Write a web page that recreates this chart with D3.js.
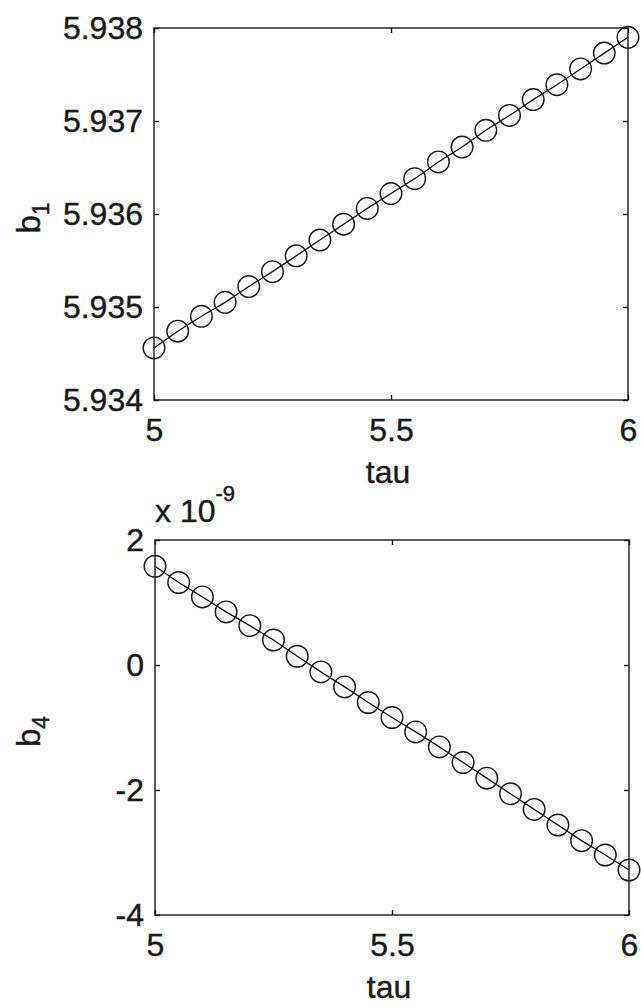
<!DOCTYPE html>
<html>
<head>
<meta charset="utf-8">
<script src="https://cdn.jsdelivr.net/npm/d3@7"></script>
<style>
  body { margin: 0; background: #fff; }
  svg { display: block; }
  text { font-family: "Liberation Sans", Arial, sans-serif; fill: #1a1a1a; stroke: #1a1a1a; stroke-width: 0.4px; }
</style>
</head>
<body>
<div id="chart"></div>
<script>
// tau samples (shared by both panels)
var tau = [5.00, 5.05, 5.10, 5.15, 5.20, 5.25, 5.30, 5.35, 5.40, 5.45, 5.50,
           5.55, 5.60, 5.65, 5.70, 5.75, 5.80, 5.85, 5.90, 5.95, 6.00];

// b1 values
var b1 = [5.93456, 5.93474, 5.93490, 5.93505, 5.93522, 5.93538, 5.93555,
          5.93572, 5.93589, 5.93606, 5.93622, 5.93638, 5.93656, 5.93672,
          5.93690, 5.93706, 5.93723, 5.93739, 5.93756, 5.93773, 5.93790];

// b4 values
var b4 = [1.58e-9, 1.32e-9, 1.09e-9, 0.85e-9, 0.63e-9, 0.40e-9, 0.14e-9,
          -0.11e-9, -0.35e-9, -0.60e-9, -0.84e-9, -1.07e-9, -1.31e-9, -1.56e-9,
          -1.81e-9, -2.06e-9, -2.31e-9, -2.56e-9, -2.81e-9, -3.04e-9, -3.28e-9];

var xTicks = [5, 5.5, 6];
var xTickLabels = ["5", "5.5", "6"];
var b1Ticks = [5.934, 5.935, 5.936, 5.937, 5.938];
var b4Ticks = [-4e-9, -2e-9, 0, 2e-9];

var width = 641, height = 1008;
var fs = 32;

var svg = d3.select("#chart").append("svg")
	.attr("width", width)
	.attr("height", height);

function drawPanel(opt) {
	var x = d3.scaleLinear().domain([5, 6]).range([opt.left, opt.right]);
	var y = d3.scaleLinear().domain(opt.domain).range([opt.bottom, opt.top]);

	var g = svg.append("g");

	// frame
	g.append("rect")
		.attr("x", opt.left)
		.attr("y", opt.top)
		.attr("width", opt.right - opt.left)
		.attr("height", opt.bottom - opt.top)
		.attr("fill", "none")
		.attr("stroke", "#1a1a1a")
		.attr("stroke-width", 1.4);

	var fmtX = function(d) { return xTickLabels[xTicks.indexOf(d)]; };

	var bottomAxis = g.append("g")
		.attr("transform", "translate(0," + opt.bottom + ")")
		.call(d3.axisBottom(x).tickValues(xTicks).tickFormat(fmtX)
			.tickSizeInner(-5).tickSizeOuter(0).tickPadding(18));
	var topAxis = g.append("g")
		.attr("transform", "translate(0," + opt.top + ")")
		.call(d3.axisTop(x).tickValues(xTicks).tickFormat("")
			.tickSizeInner(-5).tickSizeOuter(0));
	var leftAxis = g.append("g")
		.attr("transform", "translate(" + opt.left + ",0)")
		.call(d3.axisLeft(y).tickValues(opt.ticks).tickFormat(opt.fmt)
			.tickSizeInner(-5).tickSizeOuter(0).tickPadding(11));
	var rightAxis = g.append("g")
		.attr("transform", "translate(" + opt.right + ",0)")
		.call(d3.axisRight(y).tickValues(opt.ticks).tickFormat("")
			.tickSizeInner(-5).tickSizeOuter(0));

	[bottomAxis, topAxis, leftAxis, rightAxis].forEach(function(a) {
		a.select(".domain").remove();
		a.selectAll("line").attr("stroke", "#1a1a1a").attr("stroke-width", 1.4);
		a.selectAll("text")
			.attr("font-family", "'Liberation Sans', Arial, sans-serif")
			.attr("font-size", fs)
			.attr("fill", "#1a1a1a");
	});

	// line through the samples
	var line = d3.line()
		.x(function(d, i) { return x(tau[i]); })
		.y(function(d) { return y(d); });

	g.append("path")
		.datum(opt.values)
		.attr("d", line)
		.attr("fill", "none")
		.attr("stroke", "#111")
		.attr("stroke-width", 1.3);

	g.selectAll("circle")
		.data(opt.values)
		.enter()
		.append("circle")
		.attr("cx", function(d, i) { return x(tau[i]); })
		.attr("cy", function(d) { return y(d); })
		.attr("r", 10.8)
		.attr("fill", "none")
		.attr("stroke", "#1a1a1a")
		.attr("stroke-width", 1.4);

	// x label
	g.append("text")
		.attr("x", (opt.left + opt.right) / 2 - 3)
		.attr("y", opt.bottom + 83)
		.attr("text-anchor", "middle")
		.attr("font-size", fs)
		.text("tau");

	// y label with subscript
	var yl = g.append("text")
		.attr("transform", "translate(40," + ((opt.top + opt.bottom) / 2 + 4) + ") rotate(-90)")
		.attr("text-anchor", "middle")
		.attr("font-size", fs + 1);
	yl.append("tspan").text("b");
	yl.append("tspan").attr("dy", 9).attr("font-size", 23).text(opt.sub);
}

drawPanel({
	left: 154, right: 628, top: 28, bottom: 400,
	domain: [5.934, 5.938], ticks: b1Ticks,
	fmt: d3.format(".3f"),
	values: b1, sub: "1"
});

drawPanel({
	left: 155, right: 629, top: 540, bottom: 915,
	domain: [-4e-9, 2e-9], ticks: b4Ticks,
	fmt: function(d) { return String(Math.round(d / 1e-9)); },
	values: b4, sub: "4"
});

// exponent label for the bottom panel
var expo = svg.append("text")
	.attr("x", 155)
	.attr("y", 522)
	.attr("font-size", fs);
expo.append("tspan").text("x 10");
expo.append("tspan").attr("dy", -21).attr("font-size", 22).text("-9");
</script>
</body>
</html>
